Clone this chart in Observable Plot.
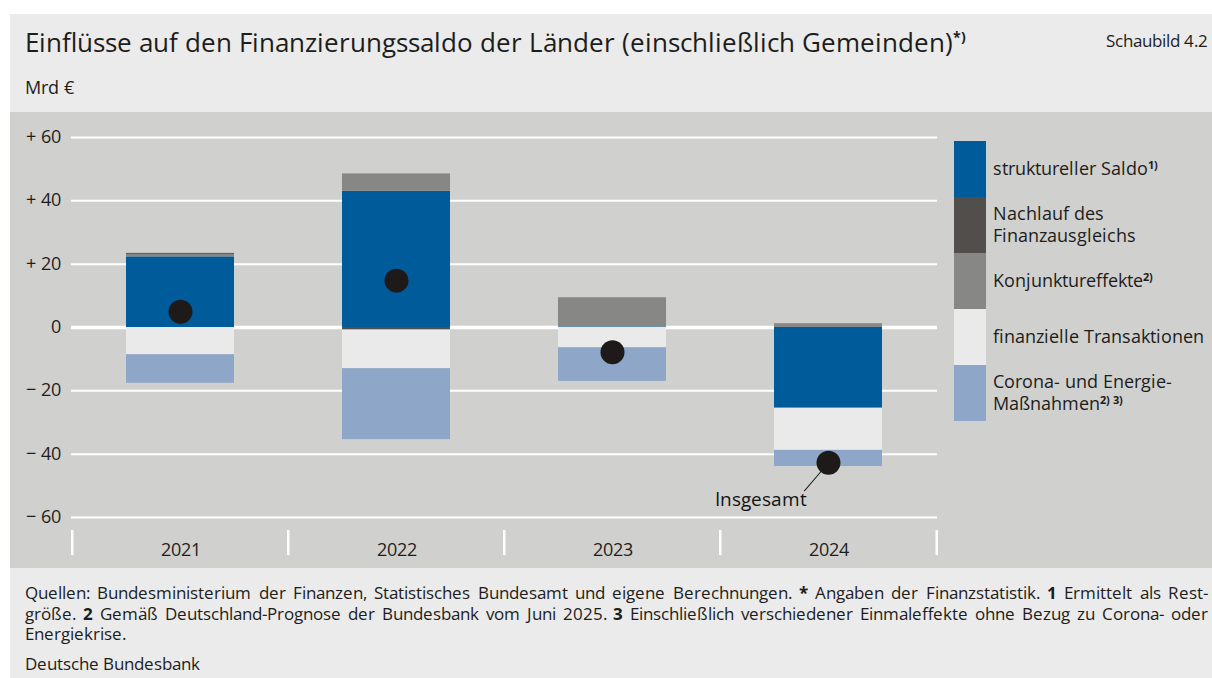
<!DOCTYPE html>
<html>
<head>
<meta charset="utf-8">
<script src="https://cdn.jsdelivr.net/npm/d3@7"></script>
<script src="https://cdn.jsdelivr.net/npm/@observablehq/plot@0.6"></script>
<style>
  @font-face { font-family:"OSTight"; font-weight:400; src: local("Open Sans Regular"), local("OpenSans-Regular"), local("Open Sans"); ascent-override:92%; descent-override:24%; line-gap-override:0%; }
  @font-face { font-family:"OSTight"; font-weight:700; src: local("Open Sans Bold"), local("OpenSans-Bold"); ascent-override:92%; descent-override:24%; line-gap-override:0%; }
  html, body { margin:0; padding:0; background:#fff; }
  body { width:1212px; height:678px; overflow:hidden; position:relative; font-family:"OSTight", "Open Sans", "Noto Sans", sans-serif; color:#1d1d1b; }
  #frame { position:absolute; left:10px; top:14px; width:1202px; height:664px; background:#ebebeb; }
  #title { position:absolute; left:15px; top:12px; font-size:26px; line-height:34px; white-space:nowrap; }
  #title sup { font-size:14px; font-weight:700; vertical-align:10px; line-height:0; }
  #fig { position:absolute; right:4px; top:16px; font-size:17.3px; line-height:22px; }
  #unit { position:absolute; left:15px; top:63px; font-size:17.5px; line-height:22px; }
  #chartbox { position:absolute; left:0; top:98px; width:1202px; height:456px; background:#d0d0cf; }
  #chartbox svg { position:absolute; left:0; top:0; }
  #legend { position:absolute; left:944px; top:29px; }
  .lrow { display:flex; align-items:center; height:56px; }
  .sw { width:32px; height:56px; flex:none; }
  .lt { margin-left:7px; font-size:18.4px; white-space:nowrap; }
  .lt div { height:21.8px; line-height:21.8px; }
  .lt sup { font-size:11px; font-weight:700; vertical-align:6px; line-height:0; }
  #foot { position:absolute; left:15px; top:569px; width:1183px; font-size:17px; white-space:nowrap; }
  #foot .ln { height:20.5px; line-height:20.5px; }
  #foot .j { text-align:justify; text-align-last:justify; }
  #foot .org { margin-top:9.5px; }
</style>
</head>
<body>
<div id="frame">
  <div id="title">Einflüsse auf den Finanzierungssaldo der Länder (einschließlich Gemeinden)<sup>*)</sup></div>
  <div id="fig">Schaubild 4.2</div>
  <div id="unit">Mrd €</div>
  <div id="chartbox"><div id="legend"></div></div>
  <div id="foot">
    <div class="ln j">Quellen: Bundesministerium der Finanzen, Statistisches Bundesamt und eigene Berechnungen. <b>*</b> Angaben der Finanzstatistik. <b>1</b> Ermittelt als Rest-</div>
    <div class="ln j">größe. <b>2</b> Gemäß Deutschland-Prognose der Bundesbank vom Juni 2025. <b>3</b> Einschließlich verschiedener Einmaleffekte ohne Bezug zu Corona- oder</div>
    <div class="ln">Energiekrise.</div>
    <div class="ln org">Deutsche Bundesbank</div>
  </div>
</div>
<script>
// ---- data (Mrd €) ----
const years = ["2021", "2022", "2023", "2024"];
const strukturell = [22.3, 43.0, 0.2, -25.5];
const konjunktur = [0.8, 5.5, 9.2, 1.2];
const nachlauf = [0.3, -0.8, 0, 0];
const finanziell = [-8.6, -12.2, -6.4, -13.3];
const corona = [-9.0, -22.4, -10.6, -5.1];
const insgesamt = [5.0, 14.8, -7.8, -42.7];

const seriesKeys = ["strukturell", "konjunktur", "nachlauf", "finanziell", "corona"];
const seriesValues = { strukturell, konjunktur, nachlauf, finanziell, corona };
const seriesColors = ["#005b9a", "#878786", "#524e4b", "#eaeaea", "#8ea6c7"];

const legendKeys = ["strukturell", "nachlauf", "konjunktur", "finanziell", "corona"];
const legendLabels = [
  ["struktureller Saldo<sup>1)</sup>"],
  ["Nachlauf des", "Finanzausgleichs"],
  ["Konjunktureffekte<sup>2)</sup>"],
  ["finanzielle Transaktionen"],
  ["Corona- und Energie-", "Maßnahmen<sup>2) 3)</sup>"]
];
const yTicks = [-60, -40, -20, 0, 20, 40, 60];
const yTickLabels = ["− 60", "− 40", "− 20", "0", "+ 20", "+ 40", "+ 60"];

// ---- build tables ----
const table = [];
seriesKeys.forEach(k => years.forEach((y, i) => table.push({ year: y, series: k, value: seriesValues[k][i] })));
const totals = years.map((y, i) => ({ year: y, value: insgesamt[i] }));

const W = 1202, H = 456;
const ink = "#1d1d1b";

const chart = Plot.plot({
  width: W,
  height: H,
  marginTop: 25,
  marginBottom: 51,
  marginLeft: 61,
  marginRight: 275,
  style: { background: "transparent", fontFamily: "'OSTight', 'Open Sans', 'Noto Sans', sans-serif", fontSize: "16px", color: ink },
  x: { type: "band", domain: years, padding: 0, label: null },
  y: { domain: [-60, 60], label: null },
  color: { domain: seriesKeys, range: seriesColors },
  marks: [
    Plot.ruleY(yTicks.filter(d => d !== 0), { stroke: "#ffffff", strokeWidth: 2 }),
    Plot.ruleY([0], { stroke: "#ffffff", strokeWidth: 3.5 }),
    Plot.barY(table, { x: "year", y: "value", fill: "series", order: seriesKeys, insetLeft: 54, insetRight: 54 }),
    Plot.axisY(yTicks, { tickSize: 0, tickPadding: 11, tickFormat: (d) => yTickLabels[yTicks.indexOf(d)], fontSize: 17.5, fill: ink, label: null }),
    Plot.axisX({ tickSize: 0, tickPadding: 26, fontSize: 18, fill: ink, label: null }),
    Plot.ruleX(years, { x: d => d, dx: -108.25, y1: -64.1, y2: -72, stroke: "#ffffff", strokeWidth: 2.5 }),
    Plot.ruleX(years.slice(-1), { x: d => d, dx: 108.25, y1: -64.1, y2: -72, stroke: "#ffffff", strokeWidth: 2.5 }),
    Plot.vector(totals.slice(-1), {
      x: "year", y: "value", length: 37, rotate: 220.6, anchor: "start",
      stroke: ink, strokeWidth: 1,
      shape: { draw(context, l) { context.moveTo(0, 0); context.lineTo(0, -l); } }
    }),
    Plot.dot(totals, { x: "year", y: "value", r: 12, fill: "#1e1a19", stroke: "none" }),
    Plot.text(totals.slice(-1), { x: "year", y: "value", text: () => "Insgesamt", dx: -68, dy: 37, fontSize: 18.5, fontWeight: 400, fill: "#141414" })
  ]
});
const box = document.getElementById("chartbox");
box.insertBefore(chart, box.firstChild);

// legend
const legend = document.getElementById("legend");
legendKeys.forEach((k, i) => {
  const row = document.createElement("div");
  row.className = "lrow";
  row.innerHTML = `<div class="sw" style="background:${seriesColors[seriesKeys.indexOf(k)]}"></div><div class="lt">${legendLabels[i].map(t => `<div>${t}</div>`).join("")}</div>`;
  legend.appendChild(row);
});
</script>
</body>
</html>
